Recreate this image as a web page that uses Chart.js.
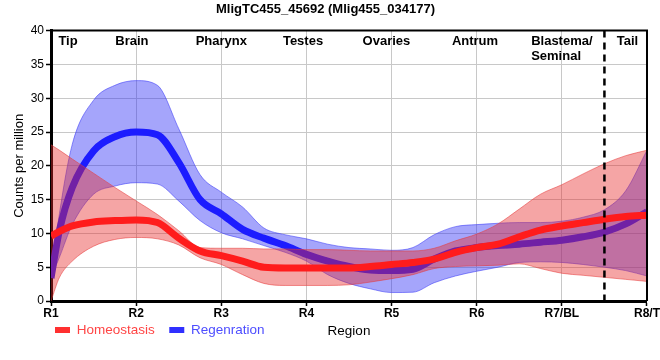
<!DOCTYPE html>
<html>
<head>
<meta charset="utf-8">
<script src="https://cdn.jsdelivr.net/npm/chart.js@4.4.1/dist/chart.umd.min.js"></script>
<style>
  html, body { margin: 0; padding: 0; background: #fff; }
  #wrap { width: 660px; height: 360px; }
</style>
</head>
<body>
<div id="wrap"><canvas id="c" width="660" height="360"></canvas></div>
<script>
// ---- data ----
const titleText = 'MligTC455_45692 (Mlig455_034177)';
const xTickLabels = ['R1', 'R2', 'R3', 'R4', 'R5', 'R6', 'R7/BL', 'R8/T'];
const regionNames = ['Tip', 'Brain', 'Pharynx', 'Testes', 'Ovaries', 'Antrum', 'Blastema/', 'Tail'];
const regionPos   = [1.2, 1.95, 3, 3.96, 4.94, 5.98, 7, 7.77];
const regionSecondLine = 'Seminal';
const dividerPos = 7.5;

const xs = [1, 1.1, 1.25, 1.5, 1.75, 2, 2.25, 2.5, 2.75, 3, 3.25, 3.5, 3.75, 4, 4.25, 4.5, 4.75, 5, 5.25, 5.5, 5.75, 6, 6.25, 6.5, 6.75, 7, 7.25, 7.5, 7.75, 8];

const homMean  = [9.6, 10.3, 11.1, 11.7, 11.9, 12.0, 11.6, 9.3, 7.4, 6.7, 5.9, 5.0, 4.9, 4.9, 4.9, 4.9, 5.1, 5.4, 5.7, 6.2, 7.2, 7.9, 8.4, 9.5, 10.5, 11.1, 11.6, 12.1, 12.5, 12.7];
const homUpper = [23.1, 22.3, 21.0, 18.9, 16.8, 14.8, 12.8, 10.4, 7.9, 7.8, 7.8, 7.7, 7.7, 7.6, 7.6, 7.5, 7.4, 7.4, 7.4, 7.8, 8.9, 9.9, 11.4, 13.6, 15.8, 17.2, 18.8, 20.3, 21.5, 22.3];
const homLower = [0, 3.5, 5.9, 8.1, 9.1, 9.4, 9.2, 8.3, 6.4, 5.4, 3.9, 2.6, 2.3, 2.3, 2.3, 2.4, 2.8, 3.3, 3.9, 4.8, 5.1, 5.2, 5.3, 5.5, 4.8, 4.1, 3.8, 3.5, 3.2, 2.9];

const regMean  = [3.4, 10.5, 16.8, 22.2, 24.3, 25.0, 24.6, 20.5, 15.0, 12.9, 10.6, 9.3, 8.2, 6.9, 5.9, 5.1, 4.6, 4.5, 4.7, 6.2, 7.4, 7.9, 8.2, 8.4, 8.7, 9.0, 9.5, 10.2, 11.4, 13.2];
const regUpper = [3.4, 13.0, 23.2, 29.7, 31.9, 32.6, 31.9, 25.5, 18.7, 16.1, 13.9, 10.8, 9.8, 9.2, 8.4, 7.9, 7.7, 7.5, 7.9, 9.8, 11.0, 11.3, 11.5, 11.6, 11.6, 11.8, 12.4, 13.5, 16.3, 22.3];
const regLower = [3.4, 6.5, 11.3, 15.8, 17.0, 17.5, 17.3, 14.8, 11.9, 10.1, 9.2, 8.2, 7.2, 5.9, 3.9, 2.6, 1.8, 1.25, 1.3, 2.7, 3.7, 4.4, 5.0, 5.7, 5.8, 5.7, 5.4, 5.0, 4.5, 3.7];

const seriesNames = ['Homeostasis', 'Regenration'];

// ---- chart ----
const FONT = "'Liberation Sans', Arial, sans-serif";
Chart.defaults.font.family = FONT;
Chart.defaults.color = '#000';

const pts = arr => xs.map((x, i) => ({ x: x, y: arr[i] }));

const RED_LINE = '#ff1c1c', RED_BAND = 'rgba(230,40,40,0.42)', RED_EDGE = 'rgba(230,60,60,0.55)';
const BLUE_LINE = '#1c1cff', BLUE_BAND = 'rgba(40,40,245,0.42)', BLUE_EDGE = 'rgba(60,60,245,0.55)';

const lineBase = { pointRadius: 0, pointHoverRadius: 0, cubicInterpolationMode: 'monotone' };

const decor = {
  id: 'decor',
  afterLayout(chart) {
    const lg = chart.legend;
    if (lg) { lg.left = 40.5; lg.top = 308.75; }
  },
  afterDatasetsDraw(chart) {
    const { ctx, chartArea: a, scales: { x } } = chart;
    ctx.save();
    // divider
    const dx = x.getPixelForValue(dividerPos);
    ctx.strokeStyle = '#000';
    ctx.lineWidth = 2.5;
    ctx.setLineDash([7, 5]);
    ctx.beginPath();
    ctx.moveTo(dx, a.top);
    ctx.lineTo(dx, a.bottom);
    ctx.stroke();
    ctx.setLineDash([]);
    // frame top/right
    ctx.lineWidth = 2;
    ctx.beginPath();
    ctx.moveTo(a.left, a.top);
    ctx.lineTo(a.right, a.top);
    ctx.lineTo(a.right, a.bottom);
    ctx.stroke();
    // region labels
    ctx.fillStyle = '#000';
    ctx.font = 'bold 13px ' + FONT;
    ctx.textBaseline = 'alphabetic';
    ctx.textAlign = 'center';
    regionNames.forEach((name, i) => {
      const px = x.getPixelForValue(regionPos[i]);
      ctx.fillText(name, px, a.top + 14);
      if (name === 'Blastema/') {
        const w = ctx.measureText(name).width;
        ctx.textAlign = 'left';
        ctx.fillText(regionSecondLine, px - w / 2, a.top + 29);
        ctx.textAlign = 'center';
      }
    });
    ctx.restore();
  },
  afterDraw(chart) {
    const { ctx, chartArea: a } = chart;
    ctx.save();
    ctx.fillStyle = '#000';
    ctx.font = '13.5px ' + FONT;
    ctx.textAlign = 'center';
    ctx.textBaseline = 'middle';
    ctx.fillText('Region', (a.left + a.right) / 2, 331);
    ctx.restore();
  }
};

new Chart(document.getElementById('c'), {
  type: 'line',
  data: {
    datasets: [
      Object.assign({ label: seriesNames[0], data: pts(homMean), borderColor: RED_LINE, borderWidth: 7, fill: false }, lineBase),
      Object.assign({ label: 'hu', data: pts(homUpper), borderColor: RED_EDGE, borderWidth: 1, backgroundColor: RED_BAND, fill: '+1' }, lineBase),
      Object.assign({ label: 'hl', data: pts(homLower), borderColor: RED_EDGE, borderWidth: 1, fill: false }, lineBase),
      Object.assign({ label: seriesNames[1], data: pts(regMean), borderColor: BLUE_LINE, borderWidth: 7, fill: false }, lineBase),
      Object.assign({ label: 'ru', data: pts(regUpper), borderColor: BLUE_EDGE, borderWidth: 1, backgroundColor: BLUE_BAND, fill: '+1' }, lineBase),
      Object.assign({ label: 'rl', data: pts(regLower), borderColor: BLUE_EDGE, borderWidth: 1, fill: false }, lineBase)
    ]
  },
  options: {
    responsive: false,
    animation: false,
    events: [],
    layout: { autoPadding: false, padding: { left: 0, right: 9, top: 0, bottom: 3 } },
    plugins: {
      title: {
        display: true, text: titleText, color: '#000',
        font: { size: 13, weight: 'bold', family: FONT },
        padding: { top: 2, bottom: 13 }
      },
      legend: {
        display: true, position: 'bottom', align: 'start', fullSize: false,
        labels: {
          boxWidth: 15, boxHeight: 6, padding: 14.5,
          font: { size: 13.5, family: FONT },
          generateLabels: () => [
            { text: seriesNames[0], fillStyle: '#ff3030', strokeStyle: '#ff3030', lineWidth: 0, fontColor: '#ff4545', hidden: false, datasetIndex: 0 },
            { text: seriesNames[1], fillStyle: '#3030ff', strokeStyle: '#3030ff', lineWidth: 0, fontColor: '#4d4dff', hidden: false, datasetIndex: 3 }
          ]
        }
      },
      tooltip: { enabled: false }
    },
    scales: {
      x: {
        type: 'linear', min: 1, max: 8,
        ticks: {
          stepSize: 1, autoSkip: false, maxRotation: 0, padding: 0, color: '#000',
          font: { size: 12, weight: 'bold', family: FONT },
          callback: v => xTickLabels[v - 1]
        },
        grid: { color: '#c8c8c8', lineWidth: 1, tickColor: '#000', tickLength: 5, tickWidth: 1.5 },
        border: { color: '#000', width: 3 },
        afterFit: s => { s.height = 18; }
      },
      y: {
        min: 0, max: 40,
        ticks: { stepSize: 5, padding: 2, color: '#000', font: { size: 12, family: FONT } },
        grid: { color: '#c8c8c8', lineWidth: 1, tickColor: '#000', tickLength: 5, tickWidth: 1.5 },
        border: { color: '#000', width: 3 },
        title: { display: true, text: 'Counts per million', color: '#000', font: { size: 13, family: FONT }, padding: { top: 12, bottom: 0 } },
        afterFit: s => { s.width = 51; }
      }
    }
  },
  plugins: [decor]
});
</script>
</body>
</html>
